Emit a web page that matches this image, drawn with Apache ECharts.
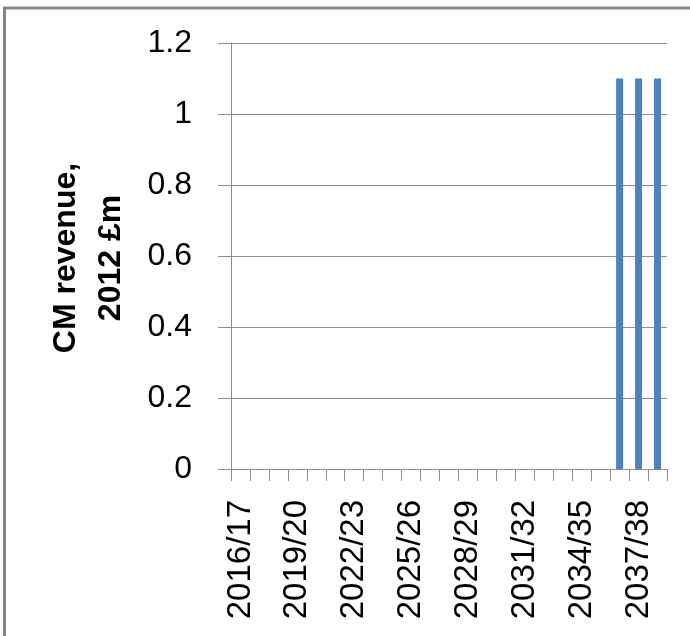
<!DOCTYPE html>
<html>
<head>
<meta charset="utf-8">
<script src="https://cdn.jsdelivr.net/npm/echarts@6/dist/echarts.min.js"></script>
<style>
  html, body { margin: 0; padding: 0; background: #ffffff; }
  #chart { width: 690px; height: 636px; }
</style>
</head>
<body>
<div id="chart"></div>
<script>
// Financial years on the category axis
const years = [
  '2016/17', '2017/18', '2018/19', '2019/20', '2020/21', '2021/22',
  '2022/23', '2023/24', '2024/25', '2025/26', '2026/27', '2027/28',
  '2028/29', '2029/30', '2030/31', '2031/32', '2032/33', '2033/34',
  '2034/35', '2035/36', '2036/37', '2037/38', '2038/39'
];

// Capacity Market revenue per year, 2012 £m
const cmRevenue = [
  0, 0, 0, 0, 0, 0,
  0, 0, 0, 0, 0, 0,
  0, 0, 0, 0, 0, 0,
  0, 0, 1.1, 1.1, 1.1
];

// Value axis range and step
const yMin = 0;
const yMax = 1.2;
const yStep = 0.2;

const yTitleLines = ['CM revenue,', '2012 £m'];

const font = 'Liberation Sans, Arial, sans-serif';
const gridColor = '#8e8e8e';

const chart = echarts.init(document.getElementById('chart'), null, { renderer: 'canvas' });

chart.setOption({
  animation: false,
  backgroundColor: '#ffffff',
  grid: { left: 231, right: 23, top: 43, bottom: 167, containLabel: false },
  xAxis: {
    type: 'category',
    data: years,
    boundaryGap: true,
    axisLine: { show: true, lineStyle: { color: gridColor, width: 1 } },
    axisTick: { show: true, interval: 0, length: 12, lineStyle: { color: gridColor } },
    axisLabel: {
      interval: 2,
      rotate: 90,
      margin: 31,
      color: '#000000',
      fontFamily: font,
      fontSize: 33
    },
    splitLine: { show: false }
  },
  yAxis: {
    type: 'value',
    min: yMin,
    max: yMax,
    interval: yStep,
    axisLine: { show: true, lineStyle: { color: gridColor, width: 1 } },
    axisTick: { show: true, length: 13, lineStyle: { color: gridColor } },
    axisLabel: {
      margin: 39,
      color: '#000000',
      fontFamily: font,
      fontSize: 32
    },
    splitLine: { show: true, lineStyle: { color: gridColor, width: 1 } }
  },
  series: [{
    type: 'bar',
    data: cmRevenue,
    barWidth: 7,
    itemStyle: { color: '#4f81bd' }
  }],
  graphic: [
    {
      type: 'rect',
      silent: true,
      shape: { x: 4.5, y: 8, width: 800, height: 800 },
      style: { fill: 'none', stroke: '#858585', lineWidth: 3 }
    },
    {
      type: 'text',
      silent: true,
      x: 89,
      y: 258,
      rotation: Math.PI / 2,
      style: {
        text: yTitleLines.join('\n'),
        font: 'bold 32px ' + font,
        lineHeight: 45,
        fill: '#000000',
        textAlign: 'center',
        textVerticalAlign: 'middle'
      }
    }
  ]
});
</script>
</body>
</html>
